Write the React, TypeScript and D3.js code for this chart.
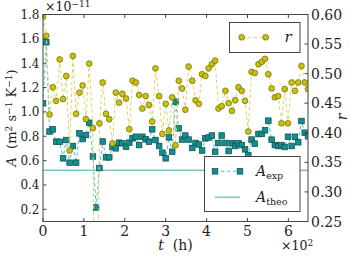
import React from 'react';
import * as d3 from 'd3';

// sample times in hours
const T_HOURS = [
  0, 8, 16, 24, 32, 41, 49, 57, 65, 73, 81, 89, 97, 105, 113, 122, 130, 138, 146, 154,
  162, 170, 178, 186, 194, 203, 211, 219, 227, 235, 243, 251, 259, 267, 275, 284, 292, 300, 308, 316,
  324, 332, 340, 348, 356, 365, 373, 381, 389, 397, 405, 413, 421, 429, 437, 446, 454, 462, 470, 478,
  486, 494, 502, 510, 518, 527, 535, 543, 551, 559, 567, 575, 583, 591, 599, 608, 616, 624, 632, 640,
  648,
];

// A_exp in units of 1e-11 m^2 s^-1 K^-1
const A_EXP = [
  1.071, 1.572, 0.839, 0.857, 0.755, 0.755, 0.619, 0.769, 0.583, 0.72,
  0.583, 0.824, 0.777, 0.81, 0.911, 0.634, 0.215, 0.539, 0.757, 0.627,
  0.627, 0.712, 0.701, 0.747, 0.742, 0.714, 0.747, 0.783, 0.796, 0.728,
  0.796, 0.775, 0.755, 0.857, 0.769, 0.72, 0.665, 0.619, 0.791, 0.673,
  1.084, 0.865, 0.773, 0.806, 0.773, 0.704, 0.745, 0.732, 0.683, 0.783,
  0.79, 0.806, 0.673, 0.745, 0.806, 0.745, 0.679, 0.742, 0.72, 0.742,
  0.728, 0.693, 0.646, 0.773, 0.739, 0.819, 0.819, 0.849, 0.928, 0.772,
  0.728, 0.72, 0.728, 0.712, 0.796, 0.72, 0.796, 0.751, 0.925, 0.829,
  0.8,
];

// r values
const R_VALS = [
  0.596, 0.564, 0.431, 0.477, 0.454, 0.524, 0.457, 0.496, 0.37, 0.53,
  0.432, 0.468, 0.48, 0.423, 0.517, 0.408, -0.2, 0.416, 0.485, 0.432,
  0.423, 0.382, 0.468, 0.451, 0.466, 0.458, 0.406, 0.488, 0.485, 0.464,
  0.441, 0.462, 0.447, 0.419, 0.509, 0.462, 0.398, 0.449, 0.404, 0.46,
  0.379, 0.488, 0.475, 0.439, 0.512, 0.488, 0.455, 0.449, 0.499, 0.496,
  0.509, 0.516, 0.522, 0.441, 0.445, 0.471, 0.45, 0.437, 0.455, 0.477,
  0.471, 0.454, 0.402, 0.503, 0.501, 0.516, 0.52, 0.525, 0.499, 0.475,
  0.46, 0.462, 0.416, 0.474, 0.416, 0.485, 0.471, 0.485, 0.513, 0.485,
  0.474,
];

const A_THEO = 0.52;

const X_TICKS = [0, 1, 2, 3, 4, 5, 6];
const A_TICKS = [0.2, 0.4, 0.6, 0.8, 1.0, 1.2, 1.4, 1.6, 1.8];
const R_TICKS = [0.25, 0.3, 0.35, 0.4, 0.45, 0.5, 0.55, 0.6];

const FONT = '"DejaVu Serif", "Liberation Serif", serif';
const SQ_FILL = '#138e8e';
const SQ_STROKE = '#0a4a4a';
const CI_FILL = '#c8c10e';
const CI_STROKE = '#6a6400';
const SQ_LINE = '#5cbcbc';
const CI_LINE = '#d8d465';
const THEO = '#7cc6c6';
const SPINE = '#444';

export default function App() {
  const L = 43, R = 308, T = 14.5, B = 221.5;
  const x = d3.scaleLinear().domain([0, 6.48]).range([L, R]);
  const yA = d3.scaleLinear().domain([0.1, 1.8]).range([B, T]);
  const yR = d3.scaleLinear().domain([0.25, 0.6]).range([B, T]);
  const data = T_HOURS.map((h, i) => ({ t: h / 100, a: A_EXP[i], r: R_VALS[i] }));
  const lineA = d3.line<any>().x((d) => x(d.t)).y((d) => yA(d.a));
  const lineR = d3.line<any>().x((d) => x(d.t)).y((d) => yR(d.r));
  const sq = 5.6;
  const cr = 2.9;
  const tl = 3.5;

  return (
    <svg width={350} height={256} style={{ position: 'absolute', left: 0, top: 0, background: '#fff' }} fontFamily={FONT}>
      <defs>
        <clipPath id="plot">
          <rect x={L} y={T} width={R - L} height={B - T} />
        </clipPath>
      </defs>
      <rect x={0} y={0} width={350} height={256} fill="#fff" />
      <g clipPath="url(#plot)">
        <line x1={L} x2={R} y1={yA(A_THEO)} y2={yA(A_THEO)} stroke={THEO} strokeWidth={1.5} />
        <path d={lineA(data) || ''} fill="none" stroke={SQ_LINE} strokeWidth={1} strokeDasharray="3.5,2.5" />
        {data.map((d, i) => (
          <rect key={'s' + i} x={x(d.t) - sq / 2} y={yA(d.a) - sq / 2} width={sq} height={sq} fill={SQ_FILL} stroke={SQ_STROKE} strokeWidth={0.7} />
        ))}
        <path d={lineR(data) || ''} fill="none" stroke={CI_LINE} strokeWidth={1} strokeDasharray="3.5,2.5" />
        {data.map((d, i) => (
          <circle key={'c' + i} cx={x(d.t)} cy={yR(d.r)} r={cr} fill={CI_FILL} stroke={CI_STROKE} strokeWidth={0.7} />
        ))}
      </g>

      {/* spines */}
      <rect x={L} y={T} width={R - L} height={B - T} fill="none" stroke={SPINE} strokeWidth={1} />

      {/* x ticks */}
      {X_TICKS.map((v) => (
        <g key={'x' + v}>
          <line x1={x(v)} x2={x(v)} y1={B} y2={B - tl} stroke={SPINE} />
          <line x1={x(v)} x2={x(v)} y1={T} y2={T + tl} stroke={SPINE} />
          <text x={x(v)} y={236} textAnchor="middle" fontSize={14} fill="#222">{v}</text>
        </g>
      ))}
      {/* left ticks */}
      {A_TICKS.map((v) => (
        <g key={'a' + v}>
          <line x1={L} x2={L + tl} y1={yA(v)} y2={yA(v)} stroke={SPINE} />
          <text x={39.5} y={yA(v) + 4.3} textAnchor="end" fontSize={12} fill="#222">{v.toFixed(1)}</text>
        </g>
      ))}
      {/* right ticks */}
      {R_TICKS.map((v) => (
        <g key={'r' + v}>
          <line x1={R} x2={R - tl} y1={yR(v)} y2={yR(v)} stroke={SPINE} />
          <text x={311} y={yR(v) + 5} textAnchor="start" fontSize={14} fill="#222">{v.toFixed(2)}</text>
        </g>
      ))}

      {/* multipliers */}
      <text x={45} y={11} fontSize={12.5} fill="#222">
        ×10<tspan dy={-4.5} fontSize={9}>−11</tspan>
      </text>
      <text x={281} y={250} fontSize={12.5} fill="#222">
        ×10<tspan dy={-4.5} fontSize={9}>2</tspan>
      </text>

      {/* axis labels */}
      <text x={175.5} y={250} textAnchor="middle" fontSize={14} fill="#222">
        <tspan fontStyle="italic">t</tspan>{'\u00A0\u00A0(h)'}
      </text>
      <text transform={`translate(16,${(T + B) / 2}) rotate(-90)`} textAnchor="middle" fontSize={13} fill="#222">
        <tspan fontStyle="italic">A</tspan>
        <tspan>{'\u00A0\u00A0(m'}</tspan>
        <tspan dy={-4.5} fontSize={9}>2</tspan>
        <tspan dy={4.5}>{'\u00A0s'}</tspan>
        <tspan dy={-4.5} fontSize={9}>−1</tspan>
        <tspan dy={4.5}>{'\u00A0K'}</tspan>
        <tspan dy={-4.5} fontSize={9}>−1</tspan>
        <tspan dy={4.5}>)</tspan>
      </text>
      <text transform={`translate(347,117) rotate(-90)`} textAnchor="middle" fontSize={14} fontStyle="italic" fill="#222">r</text>

      {/* legend r */}
      <rect x={229.5} y={22.5} width={70.5} height={30} fill="#fff" stroke={SPINE} strokeWidth={1} />
      <line x1={241.7} x2={265.7} y1={37.3} y2={37.3} stroke={CI_LINE} strokeWidth={1} strokeDasharray="3.5,2.5" />
      <circle cx={241.7} cy={37.3} r={cr} fill={CI_FILL} stroke={CI_STROKE} strokeWidth={0.7} />
      <circle cx={265.7} cy={37.3} r={cr} fill={CI_FILL} stroke={CI_STROKE} strokeWidth={0.7} />
      <text x={284.5} y={42} fontSize={15} fontStyle="italic" fill="#222">r</text>

      {/* legend A */}
      <rect x={204.5} y={156.5} width={95.5} height={55} fill="#fff" stroke={SPINE} strokeWidth={1} />
      <line x1={215} x2={240} y1={171.3} y2={171.3} stroke={SQ_LINE} strokeWidth={1} strokeDasharray="3.5,2.5" />
      <rect x={215 - sq / 2} y={171.3 - sq / 2} width={sq} height={sq} fill={SQ_FILL} stroke={SQ_STROKE} strokeWidth={0.7} />
      <rect x={240 - sq / 2} y={171.3 - sq / 2} width={sq} height={sq} fill={SQ_FILL} stroke={SQ_STROKE} strokeWidth={0.7} />
      <text x={256} y={176} fontSize={14} fill="#222">
        <tspan fontStyle="italic">A</tspan>
        <tspan dy={3} fontSize={9.5}>exp</tspan>
      </text>
      <line x1={215} x2={240} y1={197.3} y2={197.3} stroke={THEO} strokeWidth={1.5} />
      <text x={256} y={201.5} fontSize={14} fill="#222">
        <tspan fontStyle="italic">A</tspan>
        <tspan dy={3} fontSize={9.5}>theo</tspan>
      </text>
    </svg>
  );
}
